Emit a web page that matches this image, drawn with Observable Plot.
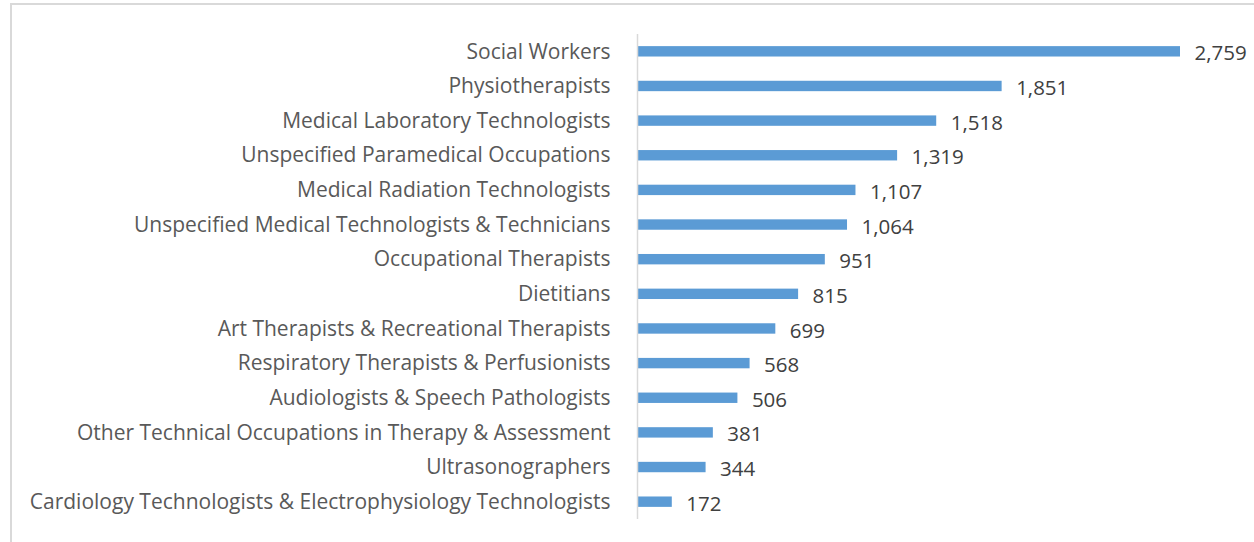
<!DOCTYPE html>
<html>
<head>
<meta charset="utf-8">
<script src="https://cdn.jsdelivr.net/npm/d3@7"></script>
<script src="https://cdn.jsdelivr.net/npm/@observablehq/plot@0.6"></script>
<style>
  html, body { margin: 0; padding: 0; background: #fff; }
  #wrap { position: relative; width: 1254px; height: 542px; overflow: hidden; }
  #frame { position: absolute; left: 10px; top: 3px; width: 1260px; height: 560px;
           border-top: 2px solid #d9d9d9; border-left: 2px solid #d9d9d9; box-sizing: border-box; }
  #chart { position: absolute; left: 0; top: 0; }
</style>
</head>
<body>
<div id="wrap"><div id="frame"></div><div id="chart"></div></div>
<script>
const categories = [
  "Social Workers",
  "Physiotherapists",
  "Medical Laboratory Technologists",
  "Unspecified Paramedical Occupations",
  "Medical Radiation Technologists",
  "Unspecified Medical Technologists & Technicians",
  "Occupational Therapists",
  "Dietitians",
  "Art Therapists & Recreational Therapists",
  "Respiratory Therapists & Perfusionists",
  "Audiologists & Speech Pathologists",
  "Other Technical Occupations in Therapy & Assessment",
  "Ultrasonographers",
  "Cardiology Technologists & Electrophysiology Technologists"
];
const values = [2759, 1851, 1518, 1319, 1107, 1064, 951, 815, 699, 568, 506, 381, 344, 172];

const data = categories.map((c, i) => ({category: c, value: values[i]}));
const fmt = d3.format(",");

const chart = Plot.plot({
  width: 1254,
  height: 542,
  marginTop: 34,
  marginBottom: 23,
  marginLeft: 638,
  marginRight: 74,
  style: {fontFamily: "'Open Sans', sans-serif", fontSize: "21px", background: "transparent"},
  x: {domain: [0, 2759], axis: null},
  y: {domain: categories, paddingInner: 0.7, paddingOuter: 0.35, round: false, label: null},
  marks: [
    Plot.axisY({tickSize: 0, tickPadding: 28, fill: "#595959", fontSize: "21px", label: null}),
    Plot.barX(data, {x: "value", y: "category", fill: "#5b9bd5"}),
    Plot.ruleX([0], {stroke: "#d9d9d9", strokeWidth: 1.5, dx: -1}),
    Plot.text(data, {x: "value", y: "category", text: d => fmt(d.value), textAnchor: "start", dx: 14, dy: 2, fill: "#404040", fontSize: 20.5})
  ]
});
document.getElementById("chart").appendChild(chart);
</script>
</body>
</html>
